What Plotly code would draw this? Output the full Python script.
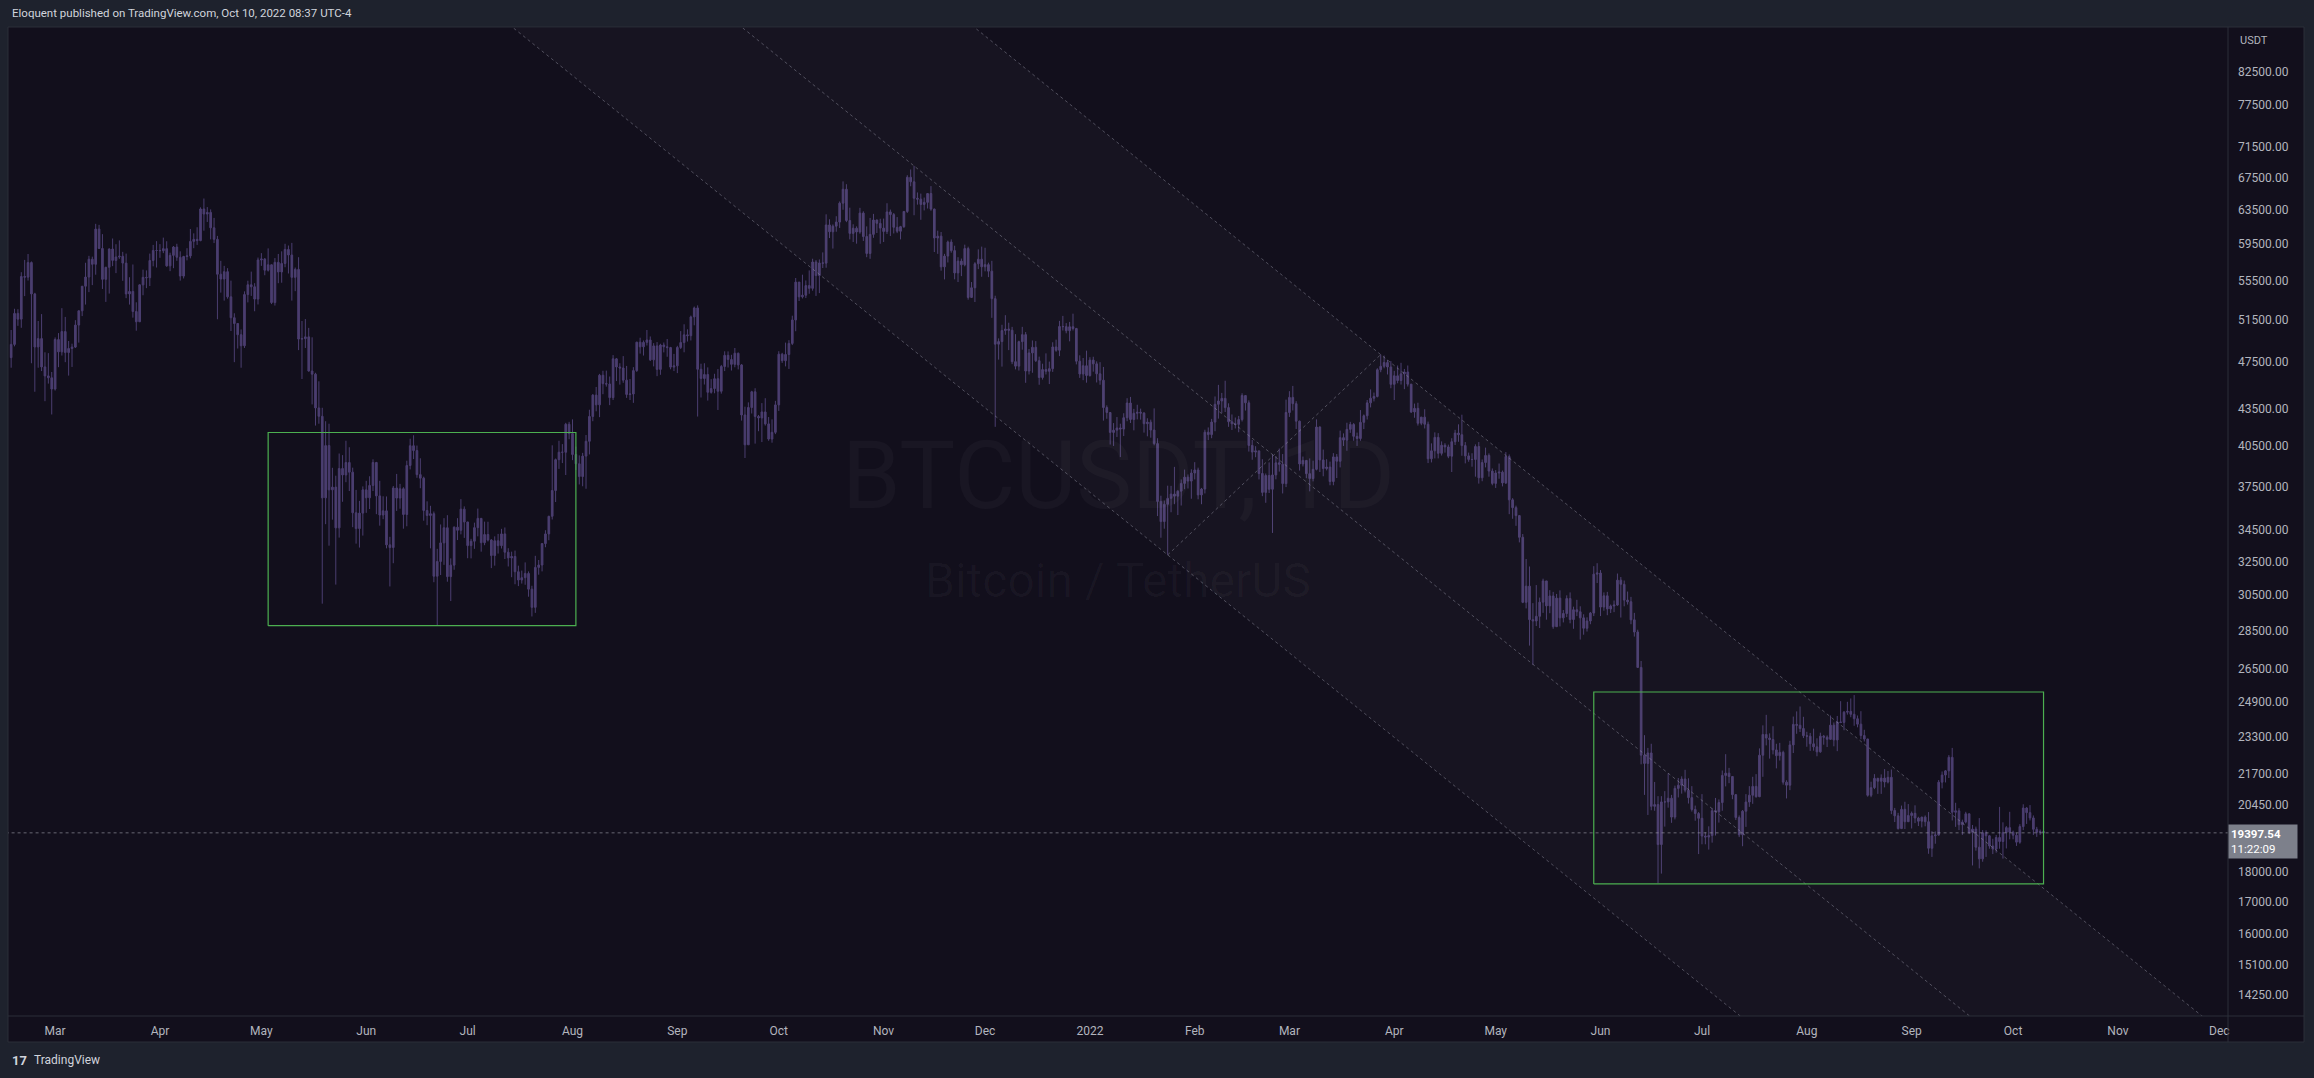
import math
import pandas as pd
import plotly.graph_objects as go

# ---------------- data (BTCUSDT daily) ----------------
start_date = "2021-02-16"
first_open = 47911

close = [
    49133, 52119, 51552, 55906, 55841, 57408, 54087, 48891, 49676, 47073, 46276, 46106, 45135,
    49587, 48440, 50349, 48375, 48751, 48882, 50971, 52375, 54884, 55851, 57773, 57221, 61188, 58968, 55605, 56900, 58912, 57648, 58030, 58102, 57351, 54083, 54340, 52303, 51293, 55025, 55817, 55777, 57635, 58746, 58740,
    58720, 58950, 57051, 58202, 59129, 57991, 55953, 58077, 58142, 59769, 60002, 59860, 63575, 62959, 63159, 61334, 60006, 56150, 55633, 56425, 53787, 51690, 51125, 50047, 49004, 54021, 55033, 54824, 53555, 57697,
    57797, 56578, 57169, 53200, 57436, 56393, 57314, 58862, 58240, 55816, 56670, 49631, 49670, 49841, 46708, 46426, 43538, 42849, 36690, 40526, 37253, 37449, 34655, 38796, 38325, 39241, 38529, 35664, 34605, 35641, 37254,
    36694, 37568, 39246, 36829, 35513, 35796, 33552, 33380, 37388, 36675, 37331, 35546, 39020, 40516, 40144, 38349, 38092, 35820, 35483, 35600, 31608, 32509, 33679, 34663, 31584, 32283, 34700, 34494, 35911, 35045,
    33504, 33786, 34669, 35287, 33690, 34220, 33862, 32875, 33815, 33502, 34259, 33086, 32729, 32820, 31880, 31383, 31520, 31778, 30839, 29790, 32145, 32288, 33634, 34258, 35425, 37208, 39456, 40020, 40016, 42207, 41461,
    39846, 39147, 38207, 39724, 40862, 42837, 44614, 43792, 46330, 45596, 45564, 44400, 47800, 47068, 46974, 45902, 44671, 44708, 46743, 49339, 48905, 49322, 49547, 47707, 48993, 46852, 49077, 48911, 48835, 47054, 47167,
    48847, 49303, 50035, 49952, 51769, 52663, 46863, 46048, 46395, 44851, 45173, 46026, 44940, 47111, 48121, 47737, 47300, 48314, 47250, 42960, 40588, 43574, 44896, 42840, 42717, 43208, 42236, 41034, 41564, 43791,
    48225, 47632, 48200, 49225, 51471, 55315, 53785, 53951, 54949, 54659, 57471, 56006, 57367, 57347, 61672, 60875, 61528, 62009, 64280, 66002, 62193, 60688, 61286, 60852, 63078, 60328, 58413, 60575, 62253, 61859, 61300,
    60911, 63219, 62896, 61395, 60937, 61470, 63273, 67525, 66947, 64882, 64774, 64122, 64380, 65466, 63557, 60161, 60368, 56942, 58119, 59697, 58730, 56289, 57569, 57165, 58960, 53726, 54721, 57274, 57776, 56950,
    57184, 56480, 53601, 49152, 49397, 50441, 50588, 50471, 47545, 47140, 49389, 50053, 46702, 48343, 48864, 47632, 46131, 46834, 46681, 46915, 48896, 48588, 50838, 50821, 50429, 50809, 50640, 47588, 46444, 47178, 46306,
    47686, 47345, 46458, 45897, 43569, 43160, 41557, 41733, 41911, 41821, 42735, 43949, 42591, 43099, 43177, 43113, 42250, 42375, 41744, 40680, 36445, 35071, 36244, 36660, 36958, 36809, 37160, 37716, 38166, 37881, 38466,
    38690, 36896, 37311, 41574, 41382, 42380, 43840, 44118, 44338, 43565, 42407, 42244, 42197, 42586, 44575, 43961, 40538, 40030, 40122, 38431, 37075, 38286, 37296, 38328, 39219, 39116, 37700, 43160,
    44421, 43892, 42454, 39137, 39400, 38419, 38062, 38737, 41982, 39437, 38795, 38904, 37850, 39666, 39338, 41143, 40951, 41801, 42191, 41247, 41077, 42358, 42892, 43960, 44348, 44500, 46820, 47128, 47465, 47062, 45538,
    46281, 45868, 46453, 46622, 45555, 43206, 43503, 42287, 42782, 42207, 39521, 40127, 41166, 39936, 40553, 40424, 39717, 40827, 41503, 41374, 40528, 39741, 39478, 39470, 40458, 38120, 39241, 39774, 38609, 37714,
    38470, 38529, 37750, 39690, 36552, 36013, 35472, 34039, 30076, 31017, 29103, 29030, 29287, 30086, 31328, 29874, 30444, 28715, 30319, 29201, 29445, 30293, 29109, 29655, 29542, 29201, 28629, 29031, 29468, 31734, 31801,
    29805, 30452, 29700, 29865, 29919, 31373, 31125, 30204, 30110, 29091, 28424, 26574, 22487, 22136, 22583, 20401, 20468, 18970, 20574, 20574, 20719, 19987, 21110, 21237, 21491, 21038, 20742, 20281, 20123, 19942,
    19279, 19243, 19297, 20231, 20190, 20548, 21637, 21731, 21592, 20860, 19970, 19323, 20212, 20569, 20836, 21190, 20779, 22485, 23390, 23231, 23164, 22714, 22465, 22609, 21361, 21239, 22930, 23843, 23804, 23656, 23336,
    23314, 22978, 22846, 22630, 23313, 23271, 23175, 23810, 23149, 23954, 23934, 24403, 24442, 24305, 24101, 23854, 23342, 23191, 20834, 21140, 21516, 21399, 21529, 21368, 21559, 20241, 20037, 19555, 20285, 19813, 20050,
    20131, 19952, 19832, 19986, 19812, 18837, 19290, 19319, 21361, 21652, 21826, 22396, 20173, 20227, 19701, 19803, 20113, 19417, 19538, 18875, 18461, 19401, 19289, 18920, 18807, 19227, 19080, 19412, 19591, 19423,
    19311, 19057, 19630, 20337, 20158, 19956, 19531, 19417, 19446, 19397.54,
]

high = [
    50500, 52580, 52530, 56368, 57700, 58350, 57530, 54200, 51370, 52050, 48400, 48320, 46620,
    49790, 50200, 52640, 51770, 49450, 49200, 51450, 52400, 54900, 57390, 58150, 58060, 61800, 61680, 60600, 56940, 58980, 60100, 59450, 59880, 58590, 58400, 55830, 57200, 53230, 55080, 56640, 56560, 58400, 59370, 59800,
    59460, 60200, 59790, 58500, 59250, 59500, 58650, 58150, 59000, 61200, 60690, 61400, 63770, 64850, 63800, 63520, 62500, 60400, 57600, 57050, 56800, 55470, 52130, 51170, 50550, 54350, 55460, 56430, 55200, 57960,
    58450, 57900, 58980, 57200, 57900, 58360, 58650, 59500, 59300, 59600, 56870, 58000, 51370, 51560, 50700, 49800, 46550, 45800, 43550, 42450, 42250, 38850, 38270, 39920, 39800, 40900, 40400, 38860, 37250, 36480, 37500,
    37900, 38230, 39480, 39290, 37900, 36800, 36790, 34070, 37530, 38400, 37680, 37440, 39380, 41060, 41330, 40530, 39560, 38200, 36450, 36140, 35750, 33300, 34880, 35300, 35500, 32700, 34750, 35300, 36600, 36100,
    35060, 33940, 35000, 35950, 35290, 35070, 35060, 33920, 34100, 34260, 34590, 34680, 33340, 33120, 33190, 32250, 31950, 32450, 31900, 31040, 32860, 32600, 33650, 34500, 35460, 40550, 39540, 40900, 40640, 42320, 42400,
    42600, 40450, 39780, 39970, 41350, 43390, 44700, 45310, 46450, 46730, 46740, 46220, 48140, 47880, 47400, 48050, 47160, 46000, 47050, 49380, 49760, 49500, 50500, 49880, 49250, 49350, 49190, 49310, 49640, 48900, 48250,
    49000, 50390, 51050, 50560, 51900, 52800, 52920, 47360, 47400, 47030, 45990, 46460, 46880, 47250, 48490, 48480, 48170, 48800, 48370, 47330, 43640, 44000, 44980, 45200, 42960, 43940, 44350, 42790, 42600, 44130,
    48500, 48350, 49300, 49530, 51890, 55750, 55330, 56100, 55490, 56560, 57830, 57680, 57750, 58530, 62930, 62340, 61730, 62700, 64490, 67000, 66640, 63730, 61750, 61500, 63710, 63290, 61500, 62500, 62980, 62300, 62400,
    62420, 64270, 63500, 63090, 62600, 61560, 63290, 67790, 68530, 69000, 65600, 65460, 64970, 65500, 66400, 63620, 61000, 60850, 58370, 59860, 60000, 59280, 58000, 57850, 59400, 59170, 55320, 57450, 58870, 59180,
    59050, 57400, 57600, 53900, 49700, 51000, 51940, 51200, 50800, 50100, 49480, 50800, 50300, 48700, 49500, 49440, 48000, 47360, 48300, 47550, 49330, 49580, 51380, 51870, 51160, 51280, 52090, 50700, 48120, 47880, 48550,
    47950, 47990, 47570, 47500, 47070, 43750, 43150, 42300, 42790, 42250, 43100, 44350, 44460, 43460, 43800, 43480, 43190, 42690, 42580, 43500, 41100, 36840, 36500, 37550, 37540, 38920, 37230, 38000, 38720, 38360, 38740,
    39270, 38860, 37390, 41770, 41950, 42640, 44500, 45490, 44800, 45850, 43920, 43000, 42750, 42880, 44770, 44580, 44170, 40960, 40480, 40150, 39490, 38430, 39250, 39840, 39720, 40300, 39880, 44230,
    44950, 45400, 44100, 42500, 39690, 39430, 39550, 39380, 42600, 42040, 40220, 39490, 39310, 39950, 39880, 41700, 41480, 42330, 42400, 42300, 41540, 43360, 43000, 44200, 45100, 44830, 46950, 48189, 48100, 47700, 47600,
    46720, 47200, 47440, 46890, 47200, 45500, 43900, 43970, 42800, 43430, 42420, 40700, 41560, 41500, 40850, 40710, 40600, 41100, 41760, 42200, 42980, 40800, 39990, 39940, 40620, 40800, 39470, 40370, 39930, 38800,
    38680, 39170, 38650, 40030, 39850, 36670, 36150, 35500, 34250, 32660, 32200, 30030, 31080, 30350, 31460, 31320, 30780, 30680, 30560, 30770, 29640, 30480, 30650, 29830, 30220, 29850, 29400, 29230, 29530, 32220, 32400,
    31980, 30650, 30680, 29950, 30180, 31770, 31560, 31350, 30700, 30390, 29480, 28550, 26900, 23360, 22800, 22980, 21370, 20800, 20800, 21000, 21720, 20850, 21220, 21530, 21600, 21870, 21520, 21200, 20430, 20180,
    20880, 19420, 19640, 20330, 20730, 20670, 21840, 22530, 21950, 21600, 20880, 20050, 20260, 20880, 21200, 21580, 21690, 22780, 23800, 24280, 23440, 23760, 22980, 23020, 22680, 21440, 23110, 24200, 24440, 24670, 24190,
    23510, 23460, 23650, 23220, 23470, 23370, 23350, 24250, 23930, 24230, 24920, 24460, 24890, 25050, 25211, 24250, 24450, 23600, 23200, 21380, 21690, 21540, 21680, 21900, 21820, 21880, 20340, 20150, 20430, 20580, 20490,
    20200, 20440, 20000, 20000, 20050, 20180, 19460, 19450, 21450, 21800, 21860, 22490, 22800, 20540, 20330, 19890, 20190, 20120, 19690, 19630, 19950, 19500, 19490, 19310, 19180, 19320, 20380, 19790, 19650, 20190,
    19480, 19400, 19720, 20480, 20370, 20450, 20050, 19620, 19520, 19530,
]

low = [
    47000, 48950, 50900, 50710, 53860, 55480, 47400, 44900, 47000, 46700, 44100, 45600, 43000,
    45000, 47050, 48100, 47500, 46300, 47070, 48800, 49300, 51850, 53000, 54270, 55000, 56100, 58960, 54600, 53270, 54120, 57020, 56270, 57820, 55450, 53650, 53000, 51700, 50430, 51280, 53950, 54680, 54900, 57000, 56870,
    57930, 58450, 56950, 56480, 56800, 57600, 55470, 55700, 57650, 57870, 59000, 59370, 59790, 61000, 62020, 60000, 59580, 51540, 54220, 53400, 53600, 50400, 47500, 48750, 47000, 48800, 53220, 53880, 52330, 53010,
    57050, 56040, 56440, 53050, 52900, 55200, 55250, 56900, 56230, 53400, 54370, 48600, 46000, 48800, 46650, 43830, 42100, 42250, 30000, 34900, 33500, 35200, 31110, 34020, 36420, 37800, 37170, 34700, 33630, 33380, 34150,
    35660, 35920, 37170, 35570, 34800, 35230, 33330, 31000, 32400, 35790, 35940, 34600, 34760, 38730, 39500, 38120, 37370, 35130, 34830, 33330, 31250, 28800, 31680, 32300, 31280, 30150, 32000, 33860, 34230, 34000,
    32710, 32700, 33300, 34100, 33120, 33530, 33770, 32100, 32250, 33000, 33320, 32660, 32200, 31550, 31130, 31020, 31170, 31100, 30400, 29280, 29480, 31700, 31900, 33400, 33850, 35210, 36400, 38770, 39200, 38320, 41020,
    39420, 38690, 37640, 37510, 37330, 39850, 42450, 43260, 42780, 44690, 45340, 43770, 44200, 45820, 45510, 45670, 44380, 44200, 43960, 46630, 48280, 48100, 49030, 47600, 47120, 46250, 46370, 48390, 47990, 46860, 46700,
    46520, 48700, 48400, 49400, 49500, 50950, 42830, 44410, 45520, 44150, 44740, 44770, 43370, 44740, 46700, 47020, 46750, 47040, 46850, 42500, 39580, 40570, 43080, 40680, 41650, 40800, 42100, 40900, 40750, 41420,
    43290, 47430, 47120, 46890, 49070, 50380, 53360, 53620, 53660, 54100, 54420, 53880, 54170, 56820, 56850, 60150, 58960, 60880, 61320, 63480, 62000, 60000, 59700, 59510, 60650, 59820, 58000, 57820, 60180, 60730, 59500,
    59700, 60620, 60380, 60680, 60720, 60000, 61320, 63090, 66380, 62820, 64100, 62280, 63400, 63630, 63360, 58570, 58370, 56530, 55600, 57420, 58500, 55610, 55320, 55950, 57000, 53500, 53670, 53260, 56700, 55880,
    56460, 55840, 51680, 42000, 47730, 47100, 50040, 48600, 47320, 46850, 46750, 48640, 45670, 46400, 46550, 47510, 45500, 45950, 46400, 45560, 46630, 48450, 48050, 50450, 50180, 49420, 50450, 47300, 46100, 45900, 45680,
    46210, 46650, 45700, 45500, 42500, 42650, 40610, 40500, 41200, 39650, 41270, 42450, 42310, 41720, 42600, 42580, 41540, 41250, 41140, 40550, 35440, 34010, 34600, 32917, 35700, 36250, 35510, 36160, 37300, 37350, 36630,
    38000, 36590, 36250, 37000, 40950, 41100, 41650, 42660, 43120, 43200, 42000, 41750, 41870, 41570, 42430, 43320, 40070, 39450, 39640, 38000, 36810, 36350, 37030, 34322, 38010, 38570, 37000, 37450,
    42800, 43330, 41830, 38650, 38950, 38090, 37150, 37860, 38660, 38540, 38230, 38660, 37580, 37580, 38100, 38880, 40500, 40130, 41520, 40900, 40500, 40900, 41820, 42590, 43580, 44080, 44420, 46600, 46950, 46400, 45200,
    44200, 45630, 45520, 45120, 45350, 43120, 42730, 42100, 42130, 41870, 39200, 39250, 39550, 39550, 39770, 39990, 39570, 38540, 40570, 40820, 39750, 39180, 39300, 38930, 38200, 37700, 37870, 38880, 38200, 37580,
    37390, 38050, 37500, 37670, 35570, 35260, 34790, 33710, 30030, 29730, 27700, 26700, 28750, 28640, 29480, 29100, 29460, 28600, 28700, 28730, 28950, 29240, 28900, 28600, 29300, 28020, 28280, 28450, 28850, 29300, 31200,
    29300, 29600, 29350, 29470, 29520, 29880, 29220, 29850, 29950, 28850, 28180, 26560, 22100, 20850, 20070, 20250, 20230, 17622, 17950, 19630, 20350, 19770, 19900, 20750, 20900, 20950, 20510, 20200, 19850, 18630,
    18980, 18980, 18790, 19040, 19300, 19780, 20230, 21190, 21320, 20680, 19880, 19240, 18910, 19620, 20380, 20500, 20740, 20760, 21580, 22910, 22340, 22520, 21930, 22260, 21260, 20710, 21040, 22580, 23420, 23500, 23230,
    22850, 22670, 22680, 22440, 22590, 22940, 22840, 23160, 22870, 22660, 23900, 23580, 24290, 24170, 23780, 23710, 23180, 23080, 20780, 20760, 21080, 20890, 20890, 21150, 21310, 20100, 19800, 19520, 19550, 19540, 19800,
    19560, 19760, 19650, 19600, 19640, 18640, 18530, 19000, 19290, 21110, 21350, 21530, 19860, 19620, 19500, 19320, 19750, 19350, 18230, 18750, 18130, 18360, 18530, 18820, 18630, 18680, 18820, 18470, 18830, 19160,
    19160, 18920, 19000, 19500, 19730, 19860, 19320, 19250, 19320, 19320,
]

month_ticks = ["2021-03-01", "2021-04-01", "2021-05-01", "2021-06-01", "2021-07-01", "2021-08-01",
               "2021-09-01", "2021-10-01", "2021-11-01", "2021-12-01", "2022-01-01", "2022-02-01",
               "2022-03-01", "2022-04-01", "2022-05-01", "2022-06-01", "2022-07-01", "2022-08-01",
               "2022-09-01", "2022-10-01", "2022-11-01", "2022-12-01"]
month_labels = ["Mar", "Apr", "May", "Jun", "Jul", "Aug", "Sep", "Oct", "Nov", "Dec", "2022", "Feb",
                "Mar", "Apr", "May", "Jun", "Jul", "Aug", "Sep", "Oct", "Nov", "Dec"]

price_ticks = [82500, 77500, 71500, 67500, 63500, 59500, 55500, 51500, 47500, 43500, 40500, 37500,
               34500, 32500, 30500, 28500, 26500, 24900, 23300, 21700, 20450, 18000, 17000, 16000,
               15100, 14250]

last_price = 19397.54
countdown = "11:22:09"

# drawings
channel_mid_dates = ["2021-11-10", "2022-09-18"]
channel_mid_prices = [69000, 13700]
channel_low_anchor = ("2022-01-24", 32917)
channel_high_anchor = ("2022-03-28", 48189)
diag_dates = ["2022-01-24", "2022-03-28"]
diag_prices = [32917, 48189]
box_x0 = ["2021-05-03", "2022-05-30"]
box_x1 = ["2021-08-02", "2022-10-10"]
box_y0 = [28770, 17600]
box_y1 = [41550, 25360]

x_range = ["2021-02-15 01:40", "2022-12-03 13:10"]
y_range_prices = [13690, 89705]

# ---------------- styling ----------------
PAPER = "#1e222d"
PANEL = "#120f1c"
BORDER = "#2a2e39"
CANDLE = "#4b3e70"
TXT = "#b2b5be"
FONT = "Roboto, 'Noto Sans', sans-serif"
DRAW = "rgba(165,165,180,0.42)"
WATERMARK = "rgba(255,255,255,0.03)"

dates = pd.date_range(start_date, periods=len(close), freq="D")
opens = [first_open] + close[:-1]
highs = [max(h, o, c) for h, o, c in zip(high, opens, close)]
lows = [min(l, o, c) for l, o, c in zip(low, opens, close)]

fig = go.Figure()

# channel geometry (parallel lines in log-price space)
t_mid0, t_mid1 = pd.Timestamp(channel_mid_dates[0]), pd.Timestamp(channel_mid_dates[1])
slope = (math.log(channel_mid_prices[1]) - math.log(channel_mid_prices[0])) / ((t_mid1 - t_mid0).days)
ext_dates = [pd.Timestamp("2021-05-01"), pd.Timestamp("2023-03-01")]


def line_through(anchor_date, anchor_price):
    t0 = pd.Timestamp(anchor_date)
    return [anchor_price * math.exp(slope * (t - t0).days) for t in ext_dates]


line_a = line_through(*channel_low_anchor)
line_b = line_through(channel_mid_dates[0], channel_mid_prices[0])
line_c = line_through(*channel_high_anchor)

# channel fill
fig.add_trace(go.Scatter(
    x=[ext_dates[0], ext_dates[1], ext_dates[1], ext_dates[0], ext_dates[0]],
    y=[line_a[0], line_a[1], line_c[1], line_c[0], line_a[0]],
    fill="toself", fillcolor="rgba(255,255,255,0.022)", mode="lines",
    line=dict(width=0), hoverinfo="skip", showlegend=False))

for ln in (line_a, line_b, line_c):
    fig.add_trace(go.Scatter(x=ext_dates, y=ln, mode="lines",
                             line=dict(color=DRAW, width=1, dash="dot"),
                             hoverinfo="skip", showlegend=False))

fig.add_trace(go.Scatter(x=diag_dates, y=diag_prices, mode="lines",
                         line=dict(color=DRAW, width=1, dash="dot"),
                         hoverinfo="skip", showlegend=False))

# last-price dotted line
fig.add_trace(go.Scatter(x=[pd.Timestamp("2021-01-01"), pd.Timestamp("2023-01-01")],
                         y=[last_price, last_price], mode="lines",
                         line=dict(color="rgba(160,162,172,0.6)", width=1, dash="dot"),
                         hoverinfo="skip", showlegend=False))

# candles
fig.add_trace(go.Candlestick(
    x=dates, open=opens, high=highs, low=lows, close=close,
    increasing=dict(line=dict(color=CANDLE, width=1), fillcolor=CANDLE),
    decreasing=dict(line=dict(color=CANDLE, width=1), fillcolor=CANDLE),
    whiskerwidth=0, hoverinfo="skip", showlegend=False))

# green boxes
for x0, x1, y0, y1 in zip(box_x0, box_x1, box_y0, box_y1):
    fig.add_trace(go.Scatter(x=[x0, x1, x1, x0, x0], y=[y0, y0, y1, y1, y0], mode="lines",
                             line=dict(color="#4caf50", width=1.2),
                             hoverinfo="skip", showlegend=False))

W, H = 2314, 1078
L, R, T, B = 8, 86, 28, 62
pw, ph = W - L - R, H - T - B


def px_x(px):
    return (px - L) / pw


def px_y(py):
    return (H - B - py) / ph


shapes = [
    dict(type="rect", xref="paper", yref="paper", x0=px_x(8), x1=px_x(2304), y0=px_y(1042), y1=px_y(27),
         fillcolor=PANEL, line=dict(color=BORDER, width=1), layer="below"),
    dict(type="line", xref="paper", yref="paper", x0=0, x1=px_x(2304), y0=0, y1=0,
         line=dict(color=BORDER, width=1)),
    dict(type="line", xref="paper", yref="paper", x0=1, x1=1, y0=px_y(1042), y1=px_y(27),
         line=dict(color=BORDER, width=1)),
]

annotations = [
    dict(text="Eloquent published on TradingView.com, Oct 10, 2022 08:37 UTC-4", xref="paper", yref="paper",
         x=px_x(10), y=px_y(13), xanchor="left", yanchor="middle", showarrow=False,
         font=dict(family=FONT, size=11.5, color="#d1d4dc")),
    dict(text="USDT", xref="paper", yref="paper", x=1, xshift=10, y=px_y(40), xanchor="left",
         yanchor="middle", showarrow=False, font=dict(family=FONT, size=11, color=TXT)),
    dict(text="BTCUSDT, 1D", xref="paper", yref="paper", x=0.5, y=px_y(476), xanchor="center",
         yanchor="middle", showarrow=False, font=dict(family=FONT, size=94, color=WATERMARK)),
    dict(text="Bitcoin / TetherUS", xref="paper", yref="paper", x=0.5, y=px_y(580), xanchor="center",
         yanchor="middle", showarrow=False, font=dict(family=FONT, size=48, color=WATERMARK)),
    dict(text=f"<b>{last_price:.2f}</b><br>{countdown}", xref="paper", yref="y", x=1, xanchor="left",
         y=math.log10(last_price), yanchor="top", yshift=9, align="left", showarrow=False,
         bgcolor="#7d808b", borderpad=2, width=64,
         font=dict(family=FONT, size=11.5, color="#ffffff")),
    dict(text="<b>17</b>", xref="paper", yref="paper", x=px_x(10), y=px_y(1060), xanchor="left",
         yanchor="middle", showarrow=False, font=dict(family=FONT, size=13, color="#d1d4dc")),
    dict(text="TradingView", xref="paper", yref="paper", x=px_x(32), y=px_y(1060), xanchor="left",
         yanchor="middle", showarrow=False, font=dict(family=FONT, size=12, color="#d1d4dc")),
]

fig.update_layout(
    width=W, height=H, margin=dict(l=L, r=R, t=T, b=B, autoexpand=False),
    paper_bgcolor=PAPER, plot_bgcolor=PANEL,
    showlegend=False, hovermode=False, dragmode=False,
    shapes=shapes, annotations=annotations,
    xaxis=dict(type="date", range=x_range, tickmode="array", tickvals=month_ticks, ticktext=month_labels,
               showgrid=False, zeroline=False, showline=False, ticks="", ticklabelstandoff=6,
               tickfont=dict(family=FONT, size=12, color=TXT), rangeslider=dict(visible=False),
               fixedrange=True),
    yaxis=dict(type="log", side="right",
               range=[math.log10(y_range_prices[0]), math.log10(y_range_prices[1])],
               tickmode="array", tickvals=price_ticks, ticktext=[f"{v:.2f}" for v in price_ticks],
               showgrid=False, zeroline=False, showline=False, ticks="", ticklabelstandoff=9,
               tickfont=dict(family=FONT, size=12, color=TXT), fixedrange=True),
)

fig.write_html("out.html", config={"displayModeBar": False, "staticPlot": True},
               post_script="document.body.style.margin='0px';document.body.style.background='#1e222d';")
